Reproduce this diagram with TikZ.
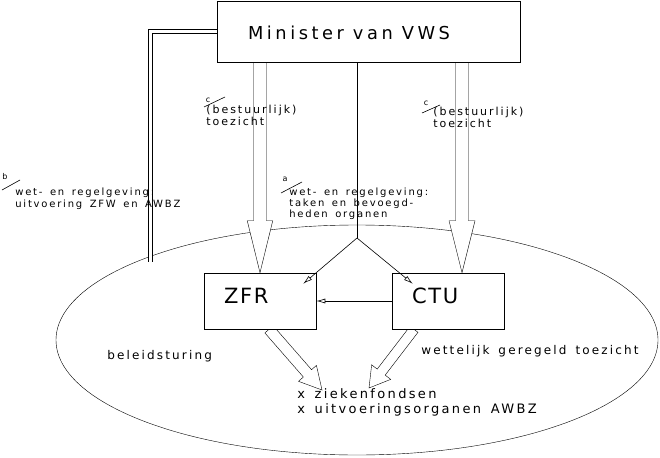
\documentclass[tikz,border=0pt]{standalone}
\usepackage{fontspec}
\newfontfamily\labelfont[LetterSpace=18, WordSpace=1.5]{DejaVu Sans}
\newfontfamily\titlefont[LetterSpace=20]{DejaVu Sans}
\newfontfamily\boxfont[LetterSpace=8]{DejaVu Sans}
\usetikzlibrary{arrows.meta, calc, backgrounds}

\begin{document}
\begin{tikzpicture}[x=1pt, y=-1pt, line width=.6pt,
  orgbox/.style={draw, fill=white, align=left, inner ysep=0pt},
  fatarrow/.style n args={3}{fill=white, to path={
    let \p1=(\tikztostart), \p2=(\tikztotarget),
        \n1={atan2(\y2-\y1,\x2-\x1)}, \n2={veclen(\x2-\x1,\y2-\y1)}
    in (\p1) ++(\n1+90:#1) -- ++(\n1:\n2-#3) -- ++(\n1+90:#2-#1) -- (\p2)
       -- ($(\p2)+(\n1+180:#3)+(\n1-90:#2)$) -- ++(\n1+90:#2-#1)
       -- ($(\p1)+(\n1-90:#1)$) -- cycle}},
  pijl/.style={-{Latex[open, length=9pt, width=5pt]}},
  lbl/.style={anchor=base west, inner sep=0pt, align=left, font=\labelfont\fontsize{10}{11.5}\selectfont},
  tag/.style={inner sep=0pt, font=\labelfont\fontsize{8}{8}\selectfont}
]
  \useasboundingbox (0,0) rectangle (660,457);

  \node[orgbox, text width=241pt, inner xsep=31pt, minimum height=61pt, text height=17pt, text depth=0pt,
        font=\titlefont\fontsize{17.8}{20}\selectfont] (minister) at (368.5,31.5) {Minister\hspace{9pt}van\hspace{9pt}VWS};
  \node[orgbox, text width=72pt, inner xsep=20pt, minimum height=56pt, text height=15pt, text depth=11pt,
        font=\boxfont\fontsize{21}{24}\selectfont] (zfr) at (260,301) {ZFR};
  \node[orgbox, text width=72pt, inner xsep=20pt, minimum height=56pt, text height=15pt, text depth=11pt,
        font=\boxfont\fontsize{21}{24}\selectfont] (ctu) at (448,301) {CTU};

  \coordinate (ctu-top) at ($(ctu.north)+(14,0)$);
  \coordinate (fonds-l) at (322,390);
  \coordinate (fonds-r) at (369,388);
  \coordinate (split) at (357,238);
  \coordinate (zfr-in) at ($(zfr.north east)+(-13,11)$);
  \coordinate (ctu-in) at ($(ctu.north west)+(21,11)$);
  \coordinate (wet-end) at (150.5,262);

  \begin{scope}[on background layer]
    \draw (357,340) ellipse [x radius=301pt, y radius=115pt];
    \draw[fatarrow={6.5pt}{12.75pt}{52pt}] (zfr.north |- minister.south) to (zfr.north);
    \draw[fatarrow={6.5pt}{13pt}{52pt}] (ctu-top |- minister.south) to (ctu-top);
    \draw[fatarrow={5.5pt}{12pt}{22pt}] ($(zfr.south)+(9,0)$) to (fonds-l);
    \draw[fatarrow={5pt}{12pt}{20pt}] ($(ctu.south)+(-34,0)$) to (fonds-r);
  \end{scope}

  \draw[double, double distance=3.5pt, line width=.5pt] (minister.west) -| (wet-end);
  \draw (split |- minister.south) -- (split);
  \draw[pijl] (split) -- (zfr-in);
  \draw[pijl] (split) -- (ctu-in);
  \draw[pijl] (ctu) -- (zfr);

  \node[tag] (c1-tag) at (208,100) {c};
  \draw (c1-tag.center) ++(-4,7) -- ++(21,-10);
  \node[lbl, font=\labelfont\fontsize{11}{12}\selectfont] (c1-txt) at (206,126) {(bestuurlijk)\\toezicht};
  \node[tag] (c2-tag) at (426,103) {c};
  \draw (c2-tag.center) ++(-4,10) -- ++(18,-8);
  \node[lbl, font=\labelfont\fontsize{11}{12}\selectfont] (c2-txt) at (433,128) {(bestuurlijk)\\toezicht};
  \node[tag] (b-tag) at (5,177) {b};
  \draw (b-tag.center) ++(-3,13) -- ++(18,-10);
  \node[lbl] (b-txt) at (15,207) {wet- en regelgeving:\\uitvoering ZFW en AWBZ};
  \node[tag] (a-tag) at (285,179) {a};
  \draw (a-tag.center) ++(-4,14) -- ++(21,-11);
  \node[lbl, font=\labelfont\fontsize{10}{10.7}\selectfont] (a-txt) at (289,217) {wet- en regelgeving:\\taken en bevoegd-\\heden organen};

  \node[lbl, font=\labelfont\fontsize{12}{14}\selectfont] (sturing) at (107,359) {beleidsturing};
  \node[lbl, font=\labelfont\fontsize{12}{14}\selectfont] (toezicht) at (421,354) {wettelijk geregeld toezicht};
  \node[lbl, font=\labelfont\fontsize{13}{15}\selectfont] (fondsen) at (297,413) {x ziekenfondsen\\x uitvoeringsorganen AWBZ};
\end{tikzpicture}
\end{document}
